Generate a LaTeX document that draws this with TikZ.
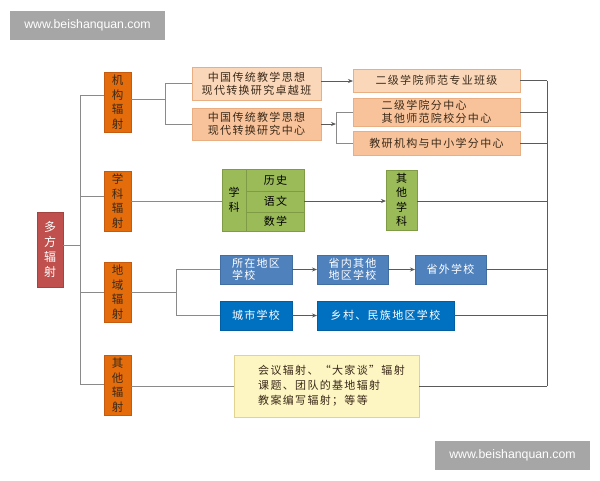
\documentclass[tikz,border=0pt]{standalone}
\usepackage{fontspec}
\setmainfont{Liberation Sans}
\newfontfamily\cjk[LetterSpace=12]{Noto Sans CJK SC}
\usetikzlibrary{arrows.meta}
\definecolor{orgF}{HTML}{E46C0A}
\definecolor{orgD}{HTML}{C55A11}
\definecolor{peachL}{HTML}{FAD7B9}
\definecolor{peachD}{HTML}{F8C39B}
\definecolor{peachB}{HTML}{E9AE82}
\definecolor{rootR}{HTML}{C0504D}
\definecolor{grnF}{HTML}{9BBB59}
\definecolor{grnD}{HTML}{7F9B45}
\definecolor{bluA}{HTML}{4F81BD}
\definecolor{bluB}{HTML}{0070C0}
\definecolor{yelF}{HTML}{FDF5C2}
\definecolor{yelD}{HTML}{E2D490}
\definecolor{wmark}{HTML}{A6A6A6}
\definecolor{lineG}{HTML}{8A8A8A}
\definecolor{lineD}{HTML}{5A5A5A}
\definecolor{txtD}{HTML}{3A2A1A}
\tikzset{
  base/.style={rectangle, inner sep=0pt, outer sep=0pt, align=center},
  rootbox/.style={base, fill=rootR, draw=rootR!85!black, text=white, font=\cjk\fontsize{12}{15}\selectfont, minimum width=26pt, minimum height=75pt},
  orgbox/.style={base, fill=orgF, draw=orgD, text=txtD, font=\cjk\fontsize{11.5}{14.5}\selectfont, minimum width=27pt, minimum height=60pt},
  pL/.style={base, fill=peachL, draw=peachB, text=txtD, font=\cjk\fontsize{11}{13}\selectfont},
  pD/.style={base, fill=peachD, draw=peachB, text=txtD, font=\cjk\fontsize{11}{13}\selectfont},
  gbox/.style={base, fill=grnF, draw=grnD, text=black, font=\cjk\fontsize{11}{14.5}\selectfont},
  gtxt/.style={base, text=black, font=\cjk\fontsize{11}{14.5}\selectfont},
  bA/.style={base, fill=bluA, draw=bluA!85!black, text=white, font=\cjk\fontsize{11}{12.5}\selectfont, minimum height=29pt},
  bB/.style={base, fill=bluB, draw=bluB!85!black, text=white, font=\cjk\fontsize{11}{12.5}\selectfont, minimum height=29pt},
  ybox/.style={base, fill=yelF, draw=yelD, text=txtD, font=\cjk\fontsize{11}{15}\selectfont, align=left, minimum width=185pt, minimum height=62pt},
  wm/.style={base, fill=wmark, text=white, font=\fontsize{12.3}{14}\selectfont, minimum width=155pt, minimum height=29pt},
  conn/.style={draw=lineG, line width=1pt},
  connR/.style={draw=lineD, line width=1pt},
  arr/.style={conn, -{Stealth[length=5pt,width=4pt]}, draw=lineD, line width=0.8pt},
}
\begin{document}
\begin{tikzpicture}[x=1pt,y=-1pt]
\useasboundingbox (0,0) rectangle (600,480);
% watermarks
\node[wm] (wm1) at (87.5,25) {www.beishanquan.com};
\node[wm] (wm2) at (512.5,455) {www.beishanquan.com};
% root and level-1
\node[rootbox] (root) at (50,249.5) {多\\方\\辐\\射};
\node[orgbox] (o1) at (117.5,102) {机\\构\\辐\\射};
\node[orgbox] (o2) at (117.5,201) {学\\科\\辐\\射};
\node[orgbox] (o3) at (117.5,292) {地\\域\\辐\\射};
\node[orgbox] (o4) at (117.5,385) {其\\他\\辐\\射};
% row 1
\node[pL, minimum width=129pt, minimum height=33pt] (A) at (256.5,83.5) {中国传统教学思想\\现代转换研究卓越班};
\node[pD, minimum width=129pt, minimum height=32pt] (B) at (256.5,124) {中国传统教学思想\\现代转换研究中心};
\node[pL, minimum width=167pt, minimum height=23pt] (C) at (436.5,80.5) {二级学院师范专业班级};
\node[pD, minimum width=167pt, minimum height=28pt, align=left, font=\cjk\fontsize{11}{12.5}\selectfont] (D) at (436.5,112) {二级学院分中心\\其他师范院校分中心};
\node[pD, minimum width=167pt, minimum height=24pt] (E) at (436.5,143) {教研机构与中小学分中心};
% row 2
\node[gbox, minimum width=82pt, minimum height=62pt] (G) at (263,200) {};
\node[gtxt] (Gk) at (234,200) {学\\科};
\node[gtxt] (Gh) at (275.5,180) {历史};
\node[gtxt] (Gy) at (275.5,201.5) {语文};
\node[gtxt] (Gs) at (275.5,221.5) {数学};
\node[gbox, minimum width=31pt, minimum height=60pt] (O) at (401.5,200) {其\\他\\学\\科};
% row 3
\node[bA, minimum width=72pt, align=left] (b1) at (256,269.5) {所在地区\\学校};
\node[bA, minimum width=71pt] (b2) at (352.5,269.5) {省内其他\\地区学校};
\node[bA, minimum width=71pt] (b3) at (450.5,269.5) {省外学校};
\node[bB, minimum width=72pt] (b4) at (256,315.5) {城市学校};
\node[bB, minimum width=137pt] (b5) at (385.5,315.5) {乡村、民族地区学校};
% row 4
\node[ybox] (Y) at (326.5,386) {\hspace*{10pt}会议辐射、“大家谈”辐射\\\hspace*{10pt}课题、团队的基地辐射\\\hspace*{10pt}教案编写辐射；等等};
% coordinates
\coordinate (tTop) at (80,95);
\coordinate (tBot) at (80,384);
\coordinate (tRoot) at (80,245);
\coordinate (r1) at (165,99);
\coordinate (r1a) at (165,83.5);
\coordinate (r1b) at (165,124);
\coordinate (r2) at (336,124);
\coordinate (r2a) at (336,112);
\coordinate (r2b) at (336,143);
\coordinate (r3) at (176,292);
\coordinate (r3a) at (176,269.5);
\coordinate (r3b) at (176,315.5);
\coordinate (rTop) at (547,80.5);
\coordinate (rBot) at (547,386);
% trunk
\draw[conn] (tTop) -- (tBot);
\draw[conn] (root.east |- tRoot) -- (tRoot);
\draw[conn] (tTop) -- (tTop -| o1.west);
\draw[conn] (80,196) -- (o2.west |- 0,196);
\draw[conn] (80,292) -- (o3.west);
\draw[conn] (tBot) -- (o4.west |- tBot);
% row 1
\draw[conn] (o1.east |- r1) -- (r1);
\draw[conn] (r1a) -- (r1b);
\draw[conn] (r1a) -- (A.west);
\draw[conn] (r1b) -- (B.west);
\draw[arr] (A.east |- 0,81) -- (C.west |- 0,81);
\draw[arr] (B.east) -- (r2);
\draw[conn] (r2a) -- (r2b);
\draw[conn] (r2a) -- (D.west);
\draw[conn] (r2b) -- (E.west);
% row 2
\draw[conn] (o2.east) -- (G.west |- o2.east);
\draw[arr] (G.east |- o2.east) -- (O.west |- o2.east);
\draw[draw=grnD, line width=0.8pt] (246,169) -- (246,231);
\draw[draw=grnD, line width=0.8pt] (246,191) -- (304,191);
\draw[draw=grnD, line width=0.8pt] (246,212) -- (304,212);
% row 3
\draw[conn] (o3.east) -- (r3);
\draw[conn] (r3a) -- (r3b);
\draw[conn] (r3a) -- (b1.west);
\draw[conn] (r3b) -- (b4.west);
\draw[arr] (b1) -- (b2);
\draw[arr] (b2) -- (b3);
\draw[arr] (b4) -- (b5);
% row 4
\draw[conn] (o4.east |- Y.west) -- (Y.west);
% right side
\draw[connR] (rTop) -- (rBot);
\draw[connR] (C.east) -- (C.east -| rTop);
\draw[connR] (D.east) -- (D.east -| rTop);
\draw[connR] (E.east) -- (E.east -| rTop);
\draw[connR] (O.east |- o2.east) -- (rTop |- o2.east);
\draw[connR] (b3.east) -- (b3.east -| rTop);
\draw[connR] (b5.east) -- (b5.east -| rTop);
\draw[connR] (Y.east) -- (Y.east -| rTop);
\end{tikzpicture}
\end{document}
